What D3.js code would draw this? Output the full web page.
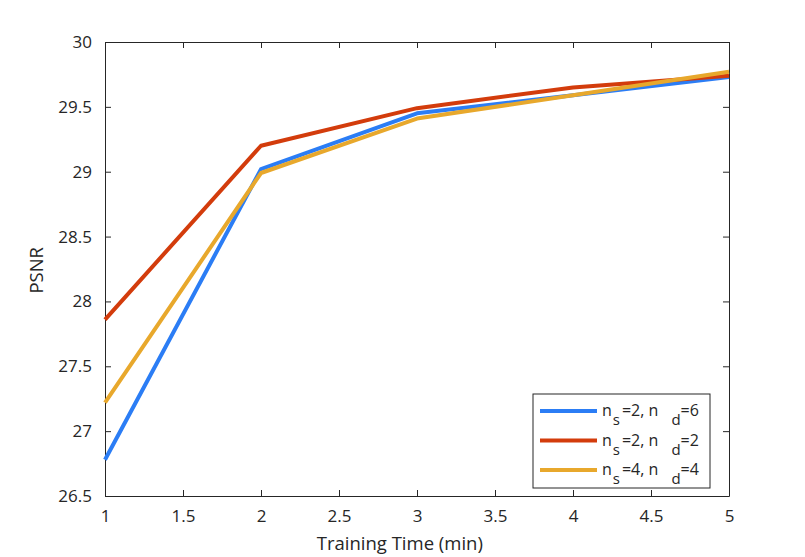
<!DOCTYPE html>
<html>
<head>
<meta charset="utf-8">
<script src="https://cdn.jsdelivr.net/npm/d3@7"></script>
<style>
  body { margin: 0; background: #fff; }
  text { font-family: "Open Sans", sans-serif; fill: #262626; }
</style>
</head>
<body>
<div id="chart"></div>
<script>
// Data
const trainingTime = [1, 2, 3, 4, 5];
const psnrS2D6 = [26.78, 29.02, 29.45, 29.59, 29.73];
const psnrS2D2 = [27.86, 29.2, 29.49, 29.65, 29.74];
const psnrS4D4 = [27.22, 28.99, 29.41, 29.59, 29.77];
const xTicks = [1, 1.5, 2, 2.5, 3, 3.5, 4, 4.5, 5];
const yTicks = [26.5, 27, 27.5, 28, 28.5, 29, 29.5, 30];

const series = [
  {s: '2', d: '6', values: psnrS2D6, color: '#2b7df5'},
  {s: '2', d: '2', values: psnrS2D2, color: '#d33c0c'},
  {s: '4', d: '4', values: psnrS4D4, color: '#e8a82c'}
];

const width = 805, height = 557;
const margin = {top: 42, right: 76, bottom: 61, left: 105};

const svg = d3.select('#chart').append('svg')
  .attr('width', width)
  .attr('height', height)
  .attr('viewBox', `0,0,${width},${height}`);

const x = d3.scaleLinear().domain([1, 5]).range([margin.left, width - margin.right]);
const y = d3.scaleLinear().domain([26.5, 30]).range([height - margin.bottom, margin.top]);

const axisColor = '#262626';
const tickLen = 6;

function styleAxis(g) {
  g.selectAll('.domain').attr('stroke', axisColor).attr('stroke-width', 1);
  g.selectAll('.tick line').attr('stroke', axisColor);
  g.selectAll('.tick text').attr('font-size', 17).style('font-family', '"Open Sans", sans-serif').attr('fill', axisColor);
}

// bottom + top
svg.append('g')
  .attr('transform', `translate(0,${y(26.5)})`)
  .call(d3.axisBottom(x).tickValues(xTicks).tickFormat(d3.format('')).tickSizeInner(-tickLen).tickSizeOuter(0).tickPadding(14))
  .call(styleAxis);
svg.append('g')
  .attr('transform', `translate(0,${y(30)})`)
  .call(d3.axisTop(x).tickValues(xTicks).tickFormat('').tickSizeInner(-tickLen).tickSizeOuter(0))
  .call(styleAxis);
// left + right
svg.append('g')
  .attr('transform', `translate(${x(1)},0)`)
  .call(d3.axisLeft(y).tickValues(yTicks).tickFormat(d3.format('')).tickSizeInner(-tickLen).tickSizeOuter(0).tickPadding(13))
  .call(styleAxis);
svg.append('g')
  .attr('transform', `translate(${x(5)},0)`)
  .call(d3.axisRight(y).tickValues(yTicks).tickFormat('').tickSizeInner(-tickLen).tickSizeOuter(0))
  .call(styleAxis);

// lines
const line = d3.line()
  .x((d, i) => x(trainingTime[i]))
  .y(d => y(d));

svg.append('g')
  .selectAll('path')
  .data(series)
  .join('path')
  .attr('fill', 'none')
  .attr('stroke', d => d.color)
  .attr('stroke-width', 4)
  .attr('stroke-linejoin', 'round')
  .attr('d', d => line(d.values));

// axis labels
svg.append('text')
  .attr('x', x(2.89))
  .attr('y', 550)
  .attr('text-anchor', 'middle')
  .attr('font-size', 18.5)
  .text('Training Time (min)');

svg.append('text')
  .attr('transform', `translate(43,${y(28.24)}) rotate(-90)`)
  .attr('text-anchor', 'middle')
  .attr('font-size', 18.5)
  .text('PSNR');

// legend
const legend = svg.append('g').attr('transform', 'translate(533,394)');
legend.append('rect')
  .attr('width', 177)
  .attr('height', 94)
  .attr('fill', '#fff')
  .attr('stroke', axisColor)
  .attr('stroke-width', 1);

const item = legend.selectAll('g.item')
  .data(series)
  .join('g')
  .attr('class', 'item')
  .attr('transform', (d, i) => `translate(0,${17 + i * 29.5})`);

item.append('line')
  .attr('x1', 7).attr('x2', 64)
  .attr('stroke', d => d.color)
  .attr('stroke-width', 4);

const label = item.append('text')
  .attr('x', 69)
  .attr('y', 5)
  .attr('font-size', 16);
label.append('tspan').text('n');
label.append('tspan').attr('font-size', 15).attr('dy', 9).attr('dx', 1).text('s');
label.append('tspan').attr('dy', -9).attr('dx', 2).text(d => `=${d.s}, n`);
label.append('tspan').attr('font-size', 15).attr('dy', 9).attr('dx', 13).text('d');
label.append('tspan').attr('dy', -9).text(d => `=${d.d}`);
</script>
</body>
</html>
